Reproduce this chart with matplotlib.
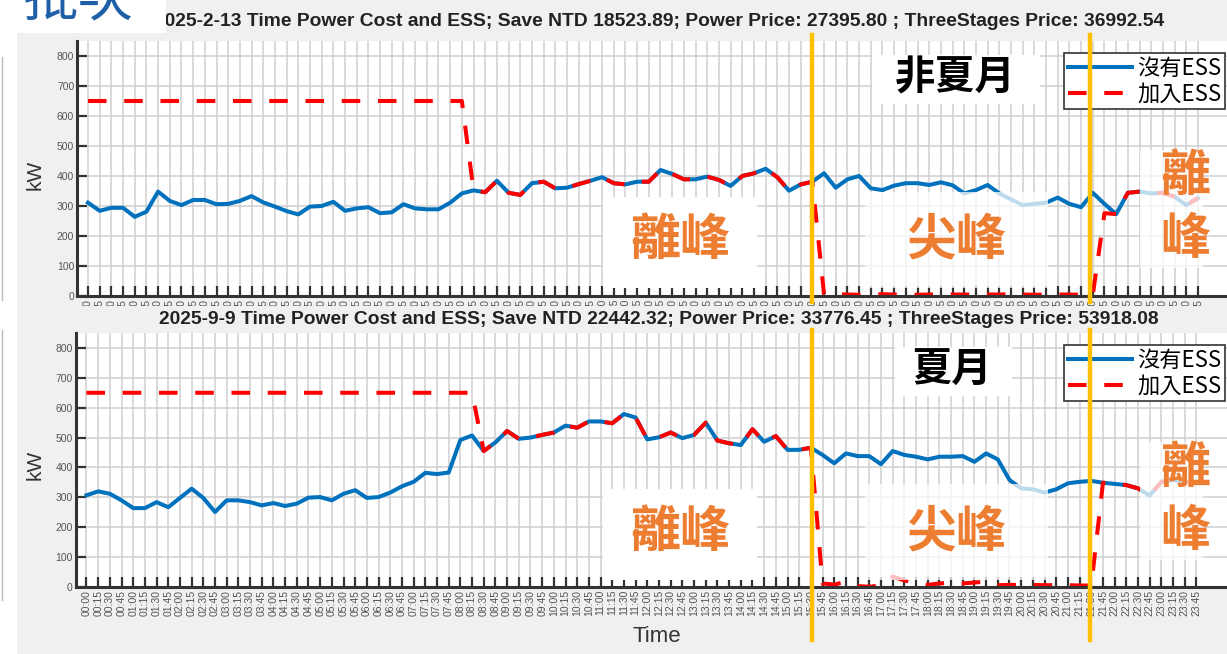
'''
Time power cost vs ESS, two days (non-summer / summer)
'''
import numpy as np
import matplotlib
matplotlib.use('Agg')
import matplotlib.pyplot as plt
from matplotlib.patches import Rectangle
from matplotlib.lines import Line2D

# ---- data (kW every 15 min, 00:00 .. 23:45)
times = ['%02d:%02d' % (h, m) for h in range(24) for m in (0, 15, 30, 45)]

feb_no_ess = [311, 284, 294, 294, 264, 281, 348, 317, 303, 320,
              320, 306, 307, 317, 333, 312, 298, 283, 272, 298,
              300, 314, 284, 292, 296, 276, 279, 306, 292, 289,
              289, 311, 342, 352, 346, 384, 344, 337, 376, 381,
              359, 361, 373, 384, 396, 376, 372, 381, 381, 420,
              407, 389, 389, 398, 387, 367, 400, 409, 424, 396,
              351, 372, 381, 409, 361, 389, 400, 359, 353, 368,
              376, 376, 370, 379, 369, 342, 353, 370, 342, 322,
              303, 307, 311, 328, 307, 296, 344, 307, 273, 344,
              348, 342, 344, 331, 303, 326]
feb_ess = [650] * 33 + feb_no_ess[33:63] + \
          [5, 6, 5, 4, 5, 6, 5, 5, 4, 5, 6, 5, 5, 4, 5, 5, 6, 5, 4, 5, 5, 5, 4, 4] + \
          [276] + feb_no_ess[88:]

sep_no_ess = [307, 320, 312, 290, 264, 264, 284, 267, 298, 329,
              298, 251, 290, 290, 284, 273, 281, 271, 279, 299,
              301, 290, 312, 324, 298, 301, 316, 337, 352, 382,
              378, 383, 492, 507, 455, 484, 522, 496, 500, 509,
              517, 540, 533, 554, 554, 548, 579, 567, 494, 501,
              517, 498, 509, 550, 490, 481, 475, 528, 486, 505,
              459, 459, 466, 442, 414, 447, 438, 438, 411, 455,
              442, 436, 427, 436, 436, 438, 419, 447, 427, 358,
              330, 327, 316, 327, 347, 352, 355, 349, 345, 341,
              330, 306, 352, 358, 352, 350]
sep_ess = [650] * 34 + sep_no_ess[34:63] + \
          [12, 8, 18, 3, 1, 5, 35, 22, 12, 7, 12, 14, 12, 15, 18, 6, 7, 7, 7, 6, 6, 6, 5, 5] + \
          sep_no_ess[87:]

titles = ['2025-2-13 Time Power Cost and ESS; Save NTD 18523.89; Power Price: 27395.80 ; ThreeStages Price: 36992.54',
          '2025-9-9 Time Power Cost and ESS; Save NTD 22442.32; Power Price: 33776.45 ; ThreeStages Price: 53918.08']
season = ['非夏月', '夏月']

W, H = 1227, 654
CJK = ['Noto Sans CJK TC', 'DejaVu Sans']
ORANGE = '#ED7D31'
GOLD = '#FFC000'


def fx(x):
    return x / W


def fy(y):
    return 1. - y / H


def box(x0, y0, x1, y1, alpha=1., z=6):
    fig.add_artist(Rectangle((fx(x0), fy(y1)), (x1 - x0) / W, (y1 - y0) / H,
                             transform=fig.transFigure, facecolor='white',
                             edgecolor='none', alpha=alpha, zorder=z))


def ftext(x, y, s, **kw):
    fig.text(fx(x), fy(y), s, ha='center', va='center', **kw)


def panel(rect, no_ess, ess, z):
    sub = fig.add_axes(rect)
    sub.set_zorder(z)
    sub.set_facecolor('white')
    xx = np.arange(len(times))
    sub.plot(xx, no_ess, c='#0072BD', lw=2.9, solid_joinstyle='round', label='沒有ESS')
    sub.plot(xx, ess, c='#FF0000', lw=2.9, dashes=(4.6, 4.4), label='加入ESS')
    sub.set_xlim([-0.94, 98.6])
    sub.set_ylim([0., 850.])
    sub.set_xticks(xx)
    sub.set_xticklabels(times, rotation=90, fontsize=7.5, color='#555555',
                        family='Liberation Sans')
    sub.set_yticks(np.arange(0, 801, 100))
    sub.set_yticklabels([str(v) for v in range(0, 801, 100)], fontsize=7.5,
                        color='#555555', family='Liberation Sans')
    for s in ['top', 'right']:
        sub.spines[s].set_visible(False)
    for s in ['left', 'bottom']:
        sub.spines[s].set_linewidth(2.2)
        sub.spines[s].set_color('#333333')
    sub.tick_params(direction='in', length=7, width=1.6, color='#333333', pad=2)
    sub.grid(True, color='#cfcfcf', lw=1.1)
    sub.set_axisbelow(True)
    return sub


fig = plt.figure(figsize=(W / 100., H / 100.), dpi=100, facecolor='#f0f0f0')

top = panel([fx(77), fy(296), (1240 - 77) / W, (296 - 41) / H], feb_no_ess, feb_ess, 0)
# second screenshot covers the tick labels of the first one
fig.add_artist(Rectangle((fx(17), 0), (W - 17) / W, fy(306), transform=fig.transFigure,
                         facecolor='#f0f0f0', edgecolor='none', zorder=1))
bot = panel([fx(75.5), fy(587), (1238.5 - 75.5) / W, (587 - 333) / H], sep_no_ess, sep_ess, 2)

for sub, yl in [(top, 53), (bot, 345)]:
    leg = sub.legend(loc='upper right', bbox_to_anchor=(fx(1225), fy(yl)),
                     bbox_transform=fig.transFigure, borderaxespad=0., fancybox=False,
                     framealpha=1., edgecolor='#333333', handlelength=2.9,
                     prop={'family': CJK, 'size': 16}, borderpad=0.15,
                     labelspacing=0.15, handletextpad=0.25)
    leg.get_frame().set_linewidth(1.2)

ftext(659, 22, titles[0], fontsize=13.9, weight='bold', family='Liberation Sans',
      color='#222222', zorder=3)
ftext(659, 320, titles[1], fontsize=13.9, weight='bold', family='Liberation Sans',
      color='#222222', zorder=3)
for yy in [175, 465]:
    ftext(35, yy, 'kW', fontsize=15, rotation=90, color='#333333',
          family='Liberation Sans', zorder=3)
ftext(657, 637, 'Time', fontsize=16, color='#333333', family='Liberation Sans', zorder=3)

# slide overlay: left strip and cropped heading
box(0, 0, 17, H, z=8)
fig.add_artist(Line2D([fx(2), fx(2)], [fy(57), fy(300)], transform=fig.transFigure,
                      c='#bbbbbb', lw=1, zorder=9))
fig.add_artist(Line2D([fx(2), fx(2)], [fy(330), fy(600)], transform=fig.transFigure,
                      c='#bbbbbb', lw=1, zorder=9))
box(17, 0, 166, 33, z=8)
fig.text(fx(22), fy(15), '批次', ha='left', va='baseline', fontsize=40,
         color='#1F5FA8', family=CJK, zorder=9)

# white text boxes
for dy, name in [(0, season[0]), (292, season[1])]:
    if name == season[0]:
        box(872, 55 + dy, 1040, 104 + dy)
    else:
        box(895, 55 + dy, 1012, 104 + dy)
    ftext(955 if dy == 0 else 952, 78 + dy, name, fontsize=29, weight='bold',
          color='black', family=CJK, zorder=7)
    box(603, 197 + dy, 757, 288 + dy)
    box(865, 192 + dy, 1048, 288 + dy, alpha=0.75)
    box(1140, 150 + dy, 1203, 268 + dy, alpha=0.75)
    ftext(680, 240 + dy, '離峰', fontsize=36, weight='bold', color=ORANGE,
          family=CJK, zorder=7)
    ftext(956, 240 + dy, '尖峰', fontsize=36, weight='bold', color=ORANGE,
          family=CJK, zorder=7)
    ftext(1185, 176 + dy, '離', fontsize=36, weight='bold', color=ORANGE,
          family=CJK, zorder=7)
    ftext(1185, 240 + dy, '峰', fontsize=36, weight='bold', color=ORANGE,
          family=CJK, zorder=7)

# peak period boundaries
for xv in [812, 1090]:
    for y0, y1 in [(35, 302), (330, 640)]:
        fig.add_artist(Line2D([fx(xv), fx(xv)], [fy(y0), fy(y1)],
                              transform=fig.transFigure, c=GOLD, lw=3.2, zorder=10))

fig.savefig('out.png', dpi=100, facecolor=fig.get_facecolor())
plt.close()
